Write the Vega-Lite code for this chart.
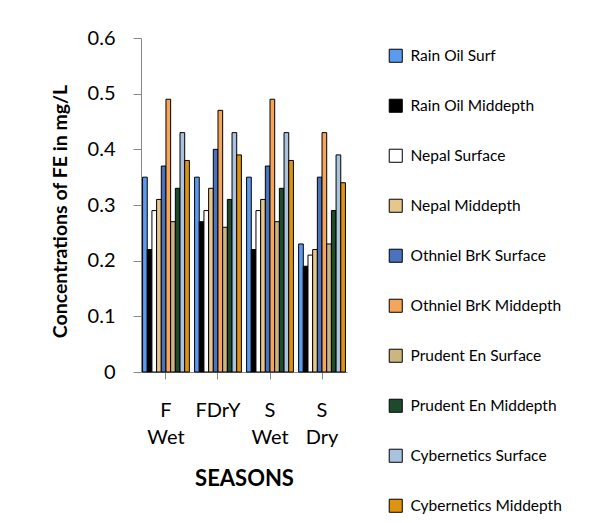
{
  "$schema": "https://vega.github.io/schema/vega-lite/v6.json",
  "autosize": {"type": "none"},
  "padding": {"left": 141, "top": 38, "right": 242, "bottom": 151},
  "width": 206,
  "height": 334,
  "background": "white",
  "config": {
    "view": {"stroke": null},
    "font": "Lato",
    "axis": {"grid": false, "domainColor": "#888888", "tickColor": "#888888", "labelColor": "black", "titleColor": "black"}
  },
  "data": {
    "values": [
      {"season": "F Wet", "series": "Rain Oil Surf", "value": 0.35},
      {"season": "F Wet", "series": "Rain Oil Middepth", "value": 0.22},
      {"season": "F Wet", "series": "Nepal Surface", "value": 0.29},
      {"season": "F Wet", "series": "Nepal Middepth", "value": 0.31},
      {"season": "F Wet", "series": "Othniel BrK Surface", "value": 0.37},
      {"season": "F Wet", "series": "Othniel BrK Middepth", "value": 0.49},
      {"season": "F Wet", "series": "Prudent En Surface", "value": 0.27},
      {"season": "F Wet", "series": "Prudent En Middepth", "value": 0.33},
      {"season": "F Wet", "series": "Cybernetics Surface", "value": 0.43},
      {"season": "F Wet", "series": "Cybernetics Middepth", "value": 0.38},
      {"season": "FDrY", "series": "Rain Oil Surf", "value": 0.35},
      {"season": "FDrY", "series": "Rain Oil Middepth", "value": 0.27},
      {"season": "FDrY", "series": "Nepal Surface", "value": 0.29},
      {"season": "FDrY", "series": "Nepal Middepth", "value": 0.33},
      {"season": "FDrY", "series": "Othniel BrK Surface", "value": 0.40},
      {"season": "FDrY", "series": "Othniel BrK Middepth", "value": 0.47},
      {"season": "FDrY", "series": "Prudent En Surface", "value": 0.26},
      {"season": "FDrY", "series": "Prudent En Middepth", "value": 0.31},
      {"season": "FDrY", "series": "Cybernetics Surface", "value": 0.43},
      {"season": "FDrY", "series": "Cybernetics Middepth", "value": 0.39},
      {"season": "S Wet", "series": "Rain Oil Surf", "value": 0.35},
      {"season": "S Wet", "series": "Rain Oil Middepth", "value": 0.22},
      {"season": "S Wet", "series": "Nepal Surface", "value": 0.29},
      {"season": "S Wet", "series": "Nepal Middepth", "value": 0.31},
      {"season": "S Wet", "series": "Othniel BrK Surface", "value": 0.37},
      {"season": "S Wet", "series": "Othniel BrK Middepth", "value": 0.49},
      {"season": "S Wet", "series": "Prudent En Surface", "value": 0.27},
      {"season": "S Wet", "series": "Prudent En Middepth", "value": 0.33},
      {"season": "S Wet", "series": "Cybernetics Surface", "value": 0.43},
      {"season": "S Wet", "series": "Cybernetics Middepth", "value": 0.38},
      {"season": "S Dry", "series": "Rain Oil Surf", "value": 0.23},
      {"season": "S Dry", "series": "Rain Oil Middepth", "value": 0.19},
      {"season": "S Dry", "series": "Nepal Surface", "value": 0.21},
      {"season": "S Dry", "series": "Nepal Middepth", "value": 0.22},
      {"season": "S Dry", "series": "Othniel BrK Surface", "value": 0.35},
      {"season": "S Dry", "series": "Othniel BrK Middepth", "value": 0.43},
      {"season": "S Dry", "series": "Prudent En Surface", "value": 0.23},
      {"season": "S Dry", "series": "Prudent En Middepth", "value": 0.29},
      {"season": "S Dry", "series": "Cybernetics Surface", "value": 0.39},
      {"season": "S Dry", "series": "Cybernetics Middepth", "value": 0.34}
    ]
  },
  "mark": {"type": "bar", "stroke": "black", "strokeWidth": 1},
  "encoding": {
    "x": {
      "field": "season", "type": "nominal", "sort": null,
      "scale": {"paddingInner": 0.1, "paddingOuter": 0.03},
      "axis": {
        "title": "SEASONS", "titleFontSize": 22, "titleFontWeight": "bold", "titlePadding": 21,
        "labelAngle": 0, "labelFontSize": 20, "labelPadding": 21, "labelLineHeight": 27,
        "labelExpr": "split(datum.label, ' ')", "tickSize": 7
      }
    },
    "xOffset": {
      "field": "series", "type": "nominal", "sort": null,
      "scale": {"padding": 0}
    },
    "y": {
      "field": "value", "type": "quantitative",
      "scale": {"domain": [0, 0.6]},
      "axis": {
        "title": "Concentrations of FE in mg/L", "titleFontSize": 19.5, "titleFontWeight": "bold", "titlePadding": 17, "titleY": 173,
        "labelFontSize": 20, "tickCount": 7, "format": "~g", "labelPadding": 18, "tickSize": 8
      }
    },
    "fill": {
      "field": "series", "type": "nominal", "sort": null,
      "scale": {
        "domain": ["Rain Oil Surf", "Rain Oil Middepth", "Nepal Surface", "Nepal Middepth", "Othniel BrK Surface", "Othniel BrK Middepth", "Prudent En Surface", "Prudent En Middepth", "Cybernetics Surface", "Cybernetics Middepth"],
        "range": ["#5b9bef", "#000000", "#ffffff", "#e6c68a", "#4a72bd", "#f5a55a", "#cdb580", "#1e4a2c", "#a9c3de", "#e0930f"]
      },
      "legend": {
        "title": null, "orient": "none", "legendX": 247, "legendY": 10,
        "symbolType": "square", "symbolSize": 170, "symbolStrokeColor": "black", "symbolStrokeWidth": 1,
        "labelFontSize": 15.5, "labelFont": "Lato", "rowPadding": 32, "labelLimit": 300, "labelOffset": 7
      }
    }
  }
}
